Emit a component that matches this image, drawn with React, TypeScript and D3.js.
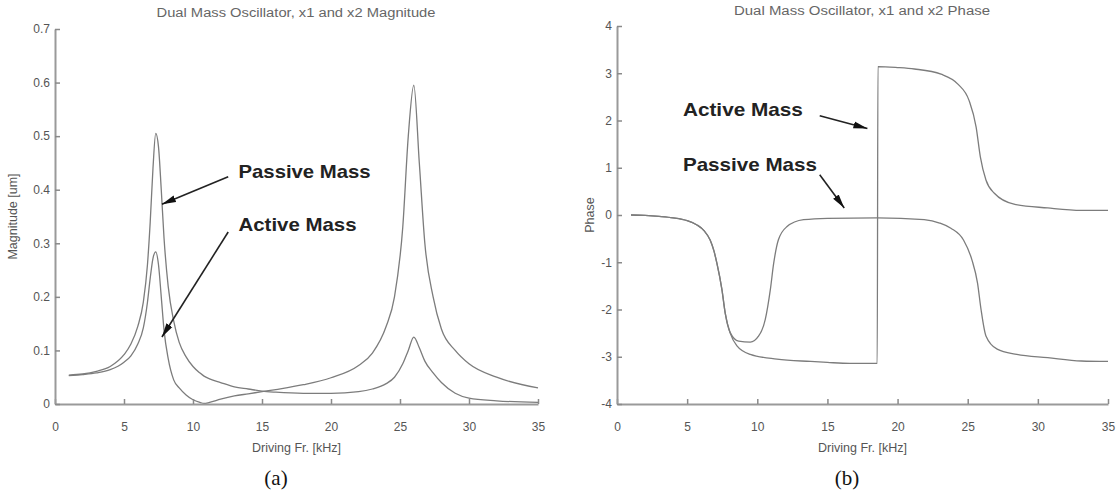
import React, { useEffect, useRef } from 'react';
import * as d3 from 'd3';

// magnitude (um) vs driving frequency (kHz)
const magFreq = [1, 2, 3, 4, 5, 5.5, 6, 6.4, 6.7, 6.9, 7.1, 7.3, 7.5, 7.7, 7.9, 8.2, 8.6, 9, 9.5, 10, 10.5, 10.8, 11.2, 12, 13, 14, 15, 16, 18, 20, 22, 23, 24, 24.6, 25.2, 25.6, 26, 26.4, 26.8, 27.4, 28, 29, 30, 32, 35];
const magActive = [0.053, 0.055, 0.058, 0.064, 0.078, 0.09, 0.112, 0.142, 0.19, 0.235, 0.272, 0.284, 0.26, 0.2, 0.138, 0.085, 0.045, 0.03, 0.017, 0.008, 0.003, 0.001, 0.003, 0.009, 0.015, 0.019, 0.023, 0.027, 0.036, 0.049, 0.072, 0.095, 0.145, 0.2, 0.33, 0.5, 0.595, 0.45, 0.3, 0.2, 0.14, 0.1, 0.075, 0.05, 0.03];
const magPassive = [0.054, 0.056, 0.061, 0.07, 0.092, 0.112, 0.145, 0.19, 0.26, 0.34, 0.44, 0.505, 0.48, 0.4, 0.31, 0.22, 0.155, 0.115, 0.088, 0.07, 0.058, 0.052, 0.047, 0.04, 0.032, 0.028, 0.024, 0.022, 0.02, 0.02, 0.023, 0.028, 0.038, 0.05, 0.075, 0.1, 0.125, 0.105, 0.08, 0.058, 0.04, 0.02, 0.011, 0.006, 0.003];

// phase (rad) vs driving frequency (kHz)
const phaseFreqX1 = [1, 2, 3, 4, 5, 5.7, 6.2, 6.64, 6.9, 7.12, 7.48, 7.71, 8.07, 8.67, 9.5, 10.1, 10.57, 10.93, 11.17, 11.5, 12.1, 13.3, 15, 18.55, 21.9, 23, 23.8, 24.7, 25.3, 25.7, 25.95, 26.3, 27.1, 28.5, 30.7, 33.1, 35];
const phaseX1 = [0, -0.01, -0.03, -0.06, -0.12, -0.21, -0.33, -0.53, -0.75, -1.02, -1.58, -2.07, -2.49, -2.67, -2.69, -2.56, -2.21, -1.58, -1.02, -0.53, -0.25, -0.1, -0.07, -0.06, -0.1, -0.17, -0.28, -0.53, -0.95, -1.44, -2.0, -2.56, -2.84, -2.95, -3.02, -3.09, -3.1];
const phaseFreqX2 = [1, 2, 3, 4, 5, 5.7, 6.2, 6.64, 6.9, 7.12, 7.48, 7.71, 8.07, 8.55, 9.5, 11.4, 13.8, 15, 16.6, 18.55, 18.6, 20, 21.2, 23.1, 24.3, 25.1, 25.6, 25.9, 26.3, 26.9, 28.3, 30.7, 33.1, 35];
const phaseX2 = [0, -0.01, -0.03, -0.06, -0.12, -0.21, -0.33, -0.53, -0.75, -1.02, -1.58, -2.07, -2.5, -2.77, -2.95, -3.05, -3.1, -3.12, -3.14, -3.14, 3.14, 3.12, 3.09, 2.98, 2.77, 2.42, 1.86, 1.23, 0.74, 0.46, 0.23, 0.15, 0.1, 0.1];

const freqTicks = [0, 5, 10, 15, 20, 25, 30, 35];
const magTicks = [0, 0.1, 0.2, 0.3, 0.4, 0.5, 0.6, 0.7];
const phaseTicks = [-4, -3, -2, -1, 0, 1, 2, 3, 4];

// annotation labels with their text anchor and arrow in data units
const magNotes = [
    { label: 'Passive Mass', at: [13.3, 0.422], from: [12.55, 0.424], to: [7.75, 0.373] },
    { label: 'Active Mass', at: [13.3, 0.323], from: [12.55, 0.321], to: [7.75, 0.125] },
];
const phaseNotes = [
    { label: 'Active Mass', at: [4.7, 2.1], from: [14.45, 2.1], to: [17.85, 1.83] },
    { label: 'Passive Mass', at: [4.7, 0.93], from: [14.45, 0.85], to: [16.2, 0.15] },
];

const W = 1116;
const H = 493;
const sans = '"Liberation Sans", Arial, sans-serif';

type Note = { label: string; at: number[]; from: number[]; to: number[] };

function drawPanel(
    svg: d3.Selection<SVGSVGElement, unknown, null, undefined>,
    opt: {
        xRange: [number, number]; yRange: [number, number]; yDomain: [number, number];
        yTicks: number[]; yFormat: (d: number) => string;
        series: { f: number[]; v: number[] }[];
        title: string; titleX: number; titleY: number; titleLen: number;
        ylabel: string; ylabelX: number; tag: string; tagX: number;
        notes: Note[]; noteLens: number[];
    }
) {
    const x = d3.scaleLinear().domain([0, 35]).range(opt.xRange);
    const y = d3.scaleLinear().domain(opt.yDomain).range(opt.yRange);
    const g = svg.append('g');

    const line = d3.line<[number, number]>()
        .x(d => x(d[0]))
        .y(d => y(d[1]))
        .curve(d3.curveMonotoneX);

    opt.series.forEach(s => {
        g.append('path')
            .datum(s.f.map((f, i) => [f, s.v[i]] as [number, number]))
            .attr('d', line)
            .attr('fill', 'none')
            .attr('stroke', '#7c7c7c')
            .attr('stroke-width', 1.3);
    });

    const xAxis = g.append('g')
        .attr('transform', `translate(0,${opt.yRange[0]})`)
        .call(d3.axisBottom(x).tickValues(freqTicks).tickSizeInner(-5).tickSizeOuter(0).tickPadding(18));
    const yAxis = g.append('g')
        .attr('transform', `translate(${opt.xRange[0]},0)`)
        .call(d3.axisLeft(y).tickValues(opt.yTicks).tickFormat(d => opt.yFormat(d as number)).tickSizeInner(-5).tickSizeOuter(0).tickPadding(5));
    [xAxis, yAxis].forEach(a => {
        a.select('.domain').attr('stroke', '#9a9a9a').attr('stroke-width', 2);
        a.selectAll('.tick line').attr('stroke', '#8a8a8a').attr('stroke-width', 1.5);
        a.selectAll('.tick text').attr('fill', '#555').attr('font-size', 12).attr('font-family', sans);
    });

    const midX = (opt.xRange[0] + opt.xRange[1]) / 2;
    g.append('text')
        .attr('x', opt.titleX).attr('y', opt.titleY)
        .attr('text-anchor', 'middle')
        .attr('font-family', sans).attr('font-size', 12.5).attr('fill', '#666')
        .attr('textLength', opt.titleLen).attr('lengthAdjust', 'spacingAndGlyphs')
        .text(opt.title);
    g.append('text')
        .attr('x', midX).attr('y', 452)
        .attr('text-anchor', 'middle')
        .attr('font-family', sans).attr('font-size', 12.5).attr('fill', '#555')
        .text('Driving Fr. [kHz]');
    const yMid = (opt.yRange[0] + opt.yRange[1]) / 2;
    g.append('text')
        .attr('transform', `translate(${opt.ylabelX},${yMid}) rotate(-90)`)
        .attr('text-anchor', 'middle')
        .attr('font-family', sans).attr('font-size', 12.5).attr('fill', '#555')
        .text(opt.ylabel);
    g.append('text')
        .attr('x', opt.tagX).attr('y', 485)
        .attr('text-anchor', 'middle')
        .attr('font-family', '"Liberation Serif", "Times New Roman", serif').attr('font-size', 21).attr('fill', '#111')
        .text(opt.tag);

    opt.notes.forEach((n, i) => {
        g.append('text')
            .attr('x', x(n.at[0])).attr('y', y(n.at[1]))
            .attr('font-family', sans).attr('font-weight', 'bold').attr('font-size', 19).attr('fill', '#222')
            .attr('textLength', opt.noteLens[i]).attr('lengthAdjust', 'spacingAndGlyphs')
            .text(n.label);
        g.append('line')
            .attr('x1', x(n.from[0])).attr('y1', y(n.from[1]))
            .attr('x2', x(n.to[0])).attr('y2', y(n.to[1]))
            .attr('stroke', '#222').attr('stroke-width', 1.6)
            .attr('marker-end', 'url(#arrowhead)');
    });
}

export default function App() {
    const ref = useRef<SVGSVGElement>(null);

    useEffect(() => {
        const svg = d3.select(ref.current as SVGSVGElement);
        svg.selectAll('*').remove();
        svg.append('rect').attr('width', W).attr('height', H).attr('fill', '#fff');
        svg.append('defs').append('marker')
            .attr('id', 'arrowhead')
            .attr('markerUnits', 'userSpaceOnUse')
            .attr('viewBox', '0 -4 14 8')
            .attr('refX', 14).attr('refY', 0)
            .attr('markerWidth', 14).attr('markerHeight', 8)
            .attr('orient', 'auto')
            .append('path')
            .attr('d', 'M0,-3.5L14,0L0,3.5Z')
            .attr('fill', '#111');

        drawPanel(svg, {
            xRange: [55, 538], yRange: [404, 29], yDomain: [0, 0.7],
            yTicks: magTicks, yFormat: d => (d === 0 ? '0' : String(d)),
            series: [{ f: magFreq, v: magActive }, { f: magFreq, v: magPassive }],
            title: 'Dual Mass Oscillator, x1 and x2 Magnitude', titleX: 296, titleY: 17, titleLen: 279,
            ylabel: 'Magnitude [um]', ylabelX: 17, tag: '(a)', tagX: 276,
            notes: magNotes, noteLens: [132, 118],
        });
        drawPanel(svg, {
            xRange: [617, 1108], yRange: [404, 26], yDomain: [-4, 4],
            yTicks: phaseTicks, yFormat: d => String(d),
            series: [{ f: phaseFreqX1, v: phaseX1 }, { f: phaseFreqX2, v: phaseX2 }],
            title: 'Dual Mass Oscillator, x1 and x2 Phase', titleX: 862, titleY: 15, titleLen: 256,
            ylabel: 'Phase', ylabelX: 594, tag: '(b)', tagX: 847,
            notes: phaseNotes, noteLens: [120, 134],
        });
    }, []);

    return (
        <svg ref={ref} width={W} height={H}
            style={{ position: 'absolute', left: 0, top: 0, display: 'block' }} />
    );
}
